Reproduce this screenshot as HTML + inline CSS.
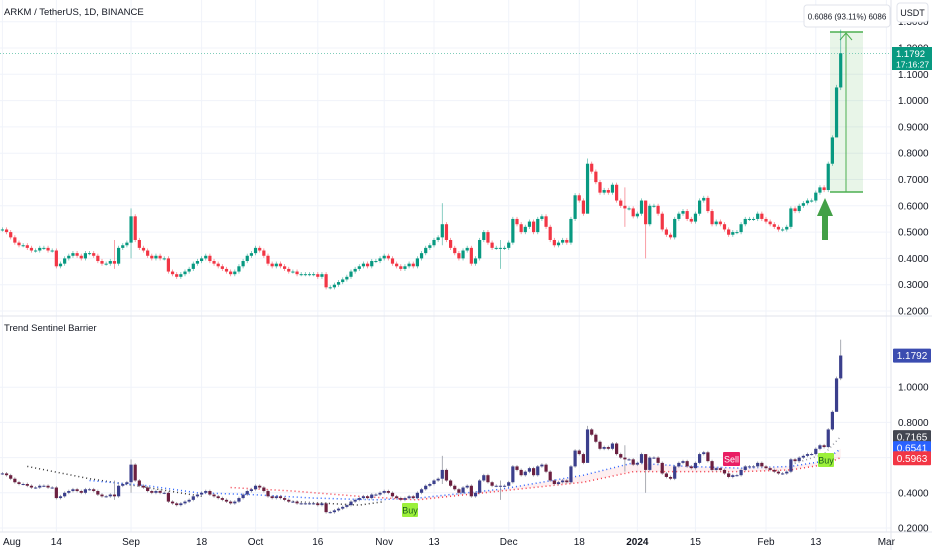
<!DOCTYPE html>
<html><head><meta charset="utf-8"><style>
html,body{margin:0;padding:0;background:#fff;}
svg{display:block;font-family:"Liberation Sans",sans-serif;}
</style></head><body>
<svg id="chart" width="932" height="550" viewBox="0 0 932 550" xmlns="http://www.w3.org/2000/svg"></svg>
<script>
const closes = [
.51,.50,.48,.46,.45,.45,.44,.43,.43,.44,.44,.43,.43,
.37,.38,.40,.41,.42,.41,.40,.42,.42,.41,.39,.38,.38,.39,.38,.44,.45,.46,
.56,.47,.44,.43,.41,.40,.41,.40,.40,.35,.34,.33,.34,.35,.36,.38,.39,.40,.41,.39,.38,.37,.36,.35,.34,.35,.37,.39,.41,.42,
.44,.43,.41,.38,.37,.38,.37,.36,.35,.35,.34,.34,.34,.34,.34,.33,.34,.29,.29,.30,.31,.32,.33,.35,.36,.37,.38,.37,.39,.39,.40,
.41,.40,.38,.37,.36,.37,.38,.37,.40,.42,.44,.45,.47,.48,
.53,.47,.44,.42,.40,.43,.44,.38,.40,.47,.50,.46,.44,.44,.44,.44,.46,.55,.53,.50,.52,.54,.50,.55,.56,.52,.47,.45,.46,.47,.46,.55,.64,.62,.57,.76,.73,.69,.65,.66,.65,.68,.62,.60,.59,.59,.56,.57,.62,.53,.60,.60,
.57,.51,.49,.48,.55,.57,.58,.55,.54,.57,.62,.63,.58,.53,.54,.53,.51,.49,.50,.50,.53,.55,.55,.55,.57,.55,.54,.53,.52,.51,.51,.52,.59,.58,.60,.61,.62,.62,.65,.67,.66,.76,.86,1.05,1.18
];
const spikeDays = [31,106,141,155,202,201,27,120,150];
const spikeHigh = [.59,.61,.78,.62,1.27,1.06,.47,.47,.67];
const spikeLow  = [.40,.45,.65,.40,1.04,.97,.36,.36,.52];
const mainTicks = [0.2,0.3,0.4,0.5,0.6,0.7,0.8,0.9,1.0,1.1,1.2,1.3];
const indTicks = [0.2,0.4,0.8,1.0];
const timeLabels = ["Aug","14","Sep","18","Oct","16","Nov","13","Dec","18","2024","15","Feb","13","Mar"];
const timeDays = [0,13,31,48,61,76,92,104,122,139,153,167,184,196,213];
const blackKnots = [[6,.55],[21,.48],[35,.43],[48,.38]];
const blackKnots2 = [[70,.35],[86,.33],[92,.35]];
const blueKnots = [[21,.47],[35,.44],[47,.40],[60,.39],[75,.37],[90,.36],[100,.37],[120,.42],[140,.50],[152,.57],[165,.55],[178,.54],[190,.55],[198,.58],[202,.65]];
const redKnots = [[55,.43],[70,.41],[86,.38],[100,.36],[120,.41],[140,.46],[152,.52],[165,.52],[178,.52],[190,.53],[198,.56],[202,.60]];
const grayKnots = [[190,.56],[198,.62],[202,.72]];

const NS="http://www.w3.org/2000/svg";
const svg=document.getElementById('chart');
function el(tag,attrs,parent){const e=document.createElementNS(NS,tag);for(const k in attrs)e.setAttribute(k,attrs[k]);(parent||svg).appendChild(e);return e;}
const xD=d=>2.4+d*4.15;
const yM=p=>311-(p-0.2)*263;
const yI=p=>528-(p-0.2)*176;

const grid=el('g',{});


mainTicks.forEach(t=>el('line',{x1:0,x2:891,y1:yM(t),y2:yM(t),stroke:'#f0f3fa'},grid));
indTicks.concat([0.6]).forEach(t=>el('line',{x1:0,x2:891,y1:yI(t),y2:yI(t),stroke:'#f0f3fa'},grid));
timeDays.forEach(d=>{el('line',{x1:xD(d),x2:xD(d),y1:0,y2:532,stroke:'#f0f3fa'},grid);});
el('line',{x1:0,x2:932,y1:316,y2:316,stroke:'#e0e3eb'});
el('line',{x1:891,x2:891,y1:0,y2:550,stroke:'#e0e3eb'});
el('line',{x1:0,x2:932,y1:532,y2:532,stroke:'#e0e3eb'});

const mb=el('g',{});


el('rect',{x:830,y:32,width:33,height:160,fill:'rgba(76,175,80,0.13)'},mb);
el('line',{x1:830,x2:863,y1:32,y2:32,stroke:'#4caf50','stroke-width':1.5},mb);
el('line',{x1:830,x2:863,y1:192,y2:192,stroke:'#4caf50','stroke-width':1.5},mb);
el('line',{x1:846,x2:846,y1:192,y2:33,stroke:'#4caf50','stroke-width':1},mb);
el('polyline',{points:'840,40 846,33 852,40',fill:'none',stroke:'#4caf50','stroke-width':1},mb);

const pl=el('line',{x1:0,x2:891,y1:yM(1.1792),y2:yM(1.1792),stroke:'#7fcdb9','stroke-dasharray':'1,2','stroke-width':1});



function hl(i){const k=spikeDays.indexOf(i);const o=i>0?closes[i-1]:closes[0];const c=closes[i];
 let h=Math.max(o,c)+0.008,l=Math.min(o,c)-0.008;if(k>=0){h=spikeHigh[k];l=spikeLow[k];}return [o,c,h,l];}

const mc=el('g',{});


closes.forEach((c,i)=>{const [o,cc,h,l]=hl(i);const col=cc>=o?'#089981':'#f23645';const x=xD(i);
 const g=el('g',{},mc);
 
 
 el('line',{x1:x,x2:x,y1:yM(h),y2:yM(l),stroke:col,'stroke-width':0.8,opacity:0.6},g);
 const y1=yM(Math.max(o,cc)),y2=yM(Math.min(o,cc));
 el('rect',{x:x-1.6,y:y1,width:3.2,height:Math.max(1,y2-y1),fill:col},g);});

const ga=el('polygon',{points:'822,240 828,240 828,216 833,216 825,198 817,216 822,216',fill:'#43a047'});



function dotted(knots,col,yF,name){const p=el('polyline',{points:knots.map(k=>xD(k[0])+','+yF(k[1])).join(' '),fill:'none',stroke:col,'stroke-width':1.5,'stroke-dasharray':'1,3'});
 }
const fill=el('polygon',{points:blueKnots.filter(k=>k[0]>=100).map(k=>xD(k[0])+','+yI(k[1])).concat(redKnots.filter(k=>k[0]>=100).reverse().map(k=>xD(k[0])+','+yI(k[1]))).join(' '),fill:'rgba(242,54,69,0.08)'});


dotted(blackKnots,'#333',yI,'black-trail-line');
dotted(blackKnots2,'#333',yI,'black-trail-line-2');
dotted(blueKnots,'#2962ff',yI,'blue-barrier-line');
dotted(redKnots,'#f23645',yI,'red-barrier-line');
dotted(grayKnots,'#9598a1',yI,'gray-line');

const ic=el('g',{});


closes.forEach((c,i)=>{const [o,cc,h,l]=hl(i);const col=cc>=o?'#3b3f8c':'#6b2040';const x=xD(i);
 const g=el('g',{},ic);
 
 
 el('line',{x1:x,x2:x,y1:yI(h),y2:yI(l),stroke:'#9598a1','stroke-width':0.8},g);
 const y1=yI(Math.max(o,cc)),y2=yI(Math.min(o,cc));
 el('rect',{x:x-1.6,y:y1,width:3.2,height:Math.max(1,y2-y1),fill:col},g);});

function label(x,y,w,h,bg,txt,col,name,fs){const g=el('g',{});
 el('rect',{x:x,y:y,width:w,height:h,fill:bg,rx:1},g);const t=el('text',{x:x+w/2,y:y+h/2+3.5,'text-anchor':'middle','font-size':fs||10,fill:col},g);t.textContent=txt;return g;}
label(402,503,16,14,'#9cf03a','Buy','#1b5e20','buy-signal-1',9);
label(723,452,17,14,'#e91e63','Sell','#fff','sell-signal',9);
label(818,453,16,14,'#9cf03a','Buy','#1b5e20','buy-signal-2',9);

function txt(x,y,s,opts,name){const t=el('text',Object.assign({x:x,y:y,'font-size':10,fill:'#131722'},opts||{}));t.textContent=s;
 return t;}
mainTicks.forEach(t=>txt(898,yM(t)+3.5,t.toFixed(4),{},'price-tick'));
indTicks.forEach(t=>txt(898,yI(t)+3.5,t.toFixed(4),{},'indicator-tick'));
timeLabels.forEach((s,i)=>{const x=xD(timeDays[i]);txt(i===0?3:x,545,s,{'text-anchor':i===0?'start':'middle','font-weight':s==='2024'?'bold':'normal'},'time-label');});

const lp=el('g',{});
el('rect',{x:892,y:47,width:40,height:23,fill:'#089981'},lp);
let t=el('text',{x:896,y:57,'font-size':9.5,fill:'#fff'},lp);t.textContent='1.1792';
t=el('text',{x:896,y:67.5,'font-size':8.5,fill:'#fff'},lp);t.textContent='17:16:27';
label(893,yI(1.1792)-7,38,14,'#3b4cb0','1.1792','#fff','ind-price-label');
label(893,yI(0.7165)-7,38,14,'#434651','0.7165','#fff','ind-gray-label');
label(893,yI(0.6541)-7,38,14,'#2962ff','0.6541','#fff','ind-blue-label');
label(893,yI(0.5963)-7,38,14,'#f23645','0.5963','#fff','ind-red-label');

const ub=el('g',{});
el('rect',{x:897,y:3,width:31,height:19,fill:'#fff',stroke:'#e0e3eb',rx:3},ub);
t=el('text',{x:912.5,y:16,'font-size':9,'text-anchor':'middle',fill:'#131722'},ub);t.textContent='USDT';

const tt=el('g',{});
el('rect',{x:804,y:5,width:86,height:22,fill:'#fff',stroke:'#e0e3eb',rx:3},tt);
t=el('text',{x:847,y:19.5,'font-size':8,'text-anchor':'middle',fill:'#131722'},tt);t.textContent='0.6086 (93.11%) 6086';

txt(4,15,'ARKM / TetherUS, 1D, BINANCE',{'font-size':9.5},'chart-title');
txt(4,331,'Trend Sentinel Barrier',{'font-size':9.5},'indicator-title');
</script>
</body></html>
